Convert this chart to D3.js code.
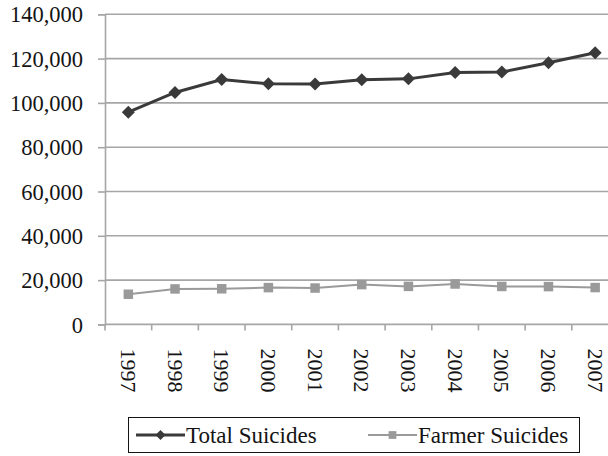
<!DOCTYPE html>
<html>
<head>
<meta charset="utf-8">
<script src="https://cdn.jsdelivr.net/npm/d3@7/dist/d3.min.js"></script>
<style>
  html, body { margin: 0; padding: 0; background: #fff; }
</style>
</head>
<body>
<svg id="chart" width="608" height="456"></svg>
<script>
// Suicides in India, 1997-2007
const years = ["1997", "1998", "1999", "2000", "2001", "2002", "2003", "2004", "2005", "2006", "2007"];
const totalSuicides = [95829, 104713, 110587, 108593, 108506, 110417, 110851, 113697, 113914, 118112, 122637];
const farmerSuicides = [13622, 16015, 16082, 16603, 16415, 17971, 17164, 18241, 17131, 17060, 16632];
const yTicks = [0, 20000, 40000, 60000, 80000, 100000, 120000, 140000];
const seriesNames = ["Total Suicides", "Farmer Suicides"];

const serif = "Liberation Serif";
const svg = d3.select("#chart").style("font-family", serif);
const plotLeft = 105, plotRight = 618.5, plotTop = 14.3, plotBottom = 324.4;

const x = d3.scaleBand().domain(years).range([plotLeft, plotRight]).padding(0);
const y = d3.scaleLinear().domain([0, 140000]).range([plotBottom, plotTop]);

const gridColor = "#a6a6a6";
const textColor = "#141414";

// Horizontal gridlines
svg.append("g")
  .selectAll("line")
  .data(yTicks.filter(d => d > 0))
  .join("line")
  .attr("x1", plotLeft).attr("x2", 608)
  .attr("y1", d => y(d)).attr("y2", d => y(d))
  .attr("stroke", gridColor).attr("stroke-width", 1.6);

// Y axis
const yAxis = svg.append("g")
  .attr("transform", `translate(${plotLeft},0)`)
  .call(d3.axisLeft(y).tickValues(yTicks).tickFormat(d3.format(",")).tickSize(7).tickPadding(15));
yAxis.attr("font-family", null).attr("font-size", null);
yAxis.select(".domain").attr("stroke", gridColor).attr("stroke-width", 1.6);
yAxis.selectAll(".tick line").attr("stroke", gridColor).attr("stroke-width", 1.6);
yAxis.selectAll(".tick text")
  .style("font-family", serif)
  .style("font-size", "22.5px")
  .attr("fill", textColor)
  .attr("dy", "0.34em");

// X axis line and tick marks between categories
svg.append("line")
  .attr("x1", plotLeft).attr("x2", 608)
  .attr("y1", plotBottom).attr("y2", plotBottom)
  .attr("stroke", gridColor).attr("stroke-width", 1.6);
const edges = years.map(d => x(d)).concat([x(years[years.length - 1]) + x.bandwidth()]);
svg.append("g")
  .selectAll("line")
  .data(edges)
  .join("line")
  .attr("x1", d => d).attr("x2", d => d)
  .attr("y1", plotBottom).attr("y2", plotBottom + 6)
  .attr("stroke", gridColor).attr("stroke-width", 1.6);

// Year labels, rotated to read top to bottom
svg.append("g")
  .selectAll("text")
  .data(years)
  .join("text")
  .attr("transform", d => `translate(${x(d) + x.bandwidth() / 2},${plotBottom + 24}) rotate(90)`)
  .attr("text-anchor", "start")
  .attr("dy", "0.34em")
  .style("font-family", serif)
  .style("font-size", "22px")
  .attr("fill", textColor)
  .text(d => d);

const cx = d => x(d) + x.bandwidth() / 2;

// Farmer suicides series
const farmerColor = "#9a9a9a";
svg.append("path")
  .datum(farmerSuicides)
  .attr("fill", "none")
  .attr("stroke", farmerColor)
  .attr("stroke-width", 2)
  .attr("d", d3.line().x((d, i) => cx(years[i])).y(d => y(d)));
svg.append("g")
  .selectAll("path")
  .data(farmerSuicides)
  .join("path")
  .attr("transform", (d, i) => `translate(${cx(years[i])},${y(d)})`)
  .attr("d", d3.symbol(d3.symbolSquare, 90))
  .attr("fill", farmerColor);

// Total suicides series
const totalColor = "#3a3a3a";
svg.append("path")
  .datum(totalSuicides)
  .attr("fill", "none")
  .attr("stroke", totalColor)
  .attr("stroke-width", 3)
  .attr("d", d3.line().x((d, i) => cx(years[i])).y(d => y(d)));
const diamond = "M0,-6.5L6.5,0L0,6.5L-6.5,0Z";
svg.append("g")
  .selectAll("path")
  .data(totalSuicides)
  .join("path")
  .attr("transform", (d, i) => `translate(${cx(years[i])},${y(d)})`)
  .attr("d", diamond)
  .attr("fill", totalColor);

// Legend
const legend = svg.append("g");
legend.append("rect")
  .attr("x", 128.5).attr("y", 417.5).attr("width", 451).attr("height", 35)
  .attr("fill", "#fff").attr("stroke", textColor).attr("stroke-width", 1);
const legendItems = [
  { name: seriesNames[0], color: totalColor, width: 3, x0: 136, marker: "diamond" },
  { name: seriesNames[1], color: farmerColor, width: 2, x0: 368, marker: "square" }
];
const ly = 435;
legendItems.forEach(it => {
  legend.append("line")
    .attr("x1", it.x0).attr("x2", it.x0 + 49)
    .attr("y1", ly).attr("y2", ly)
    .attr("stroke", it.color).attr("stroke-width", it.width);
  legend.append("path")
    .attr("transform", `translate(${it.x0 + 24.5},${ly})`)
    .attr("d", it.marker === "diamond" ? "M0,-5L5,0L0,5L-5,0Z" : d3.symbol(d3.symbolSquare, 60)())
    .attr("fill", it.color);
  legend.append("text")
    .attr("x", it.x0 + 50).attr("y", ly)
    .attr("dy", "0.34em")
    .style("font-family", serif)
    .style("font-size", "23px")
    .attr("fill", textColor)
    .text(it.name);
});
</script>
</body>
</html>
